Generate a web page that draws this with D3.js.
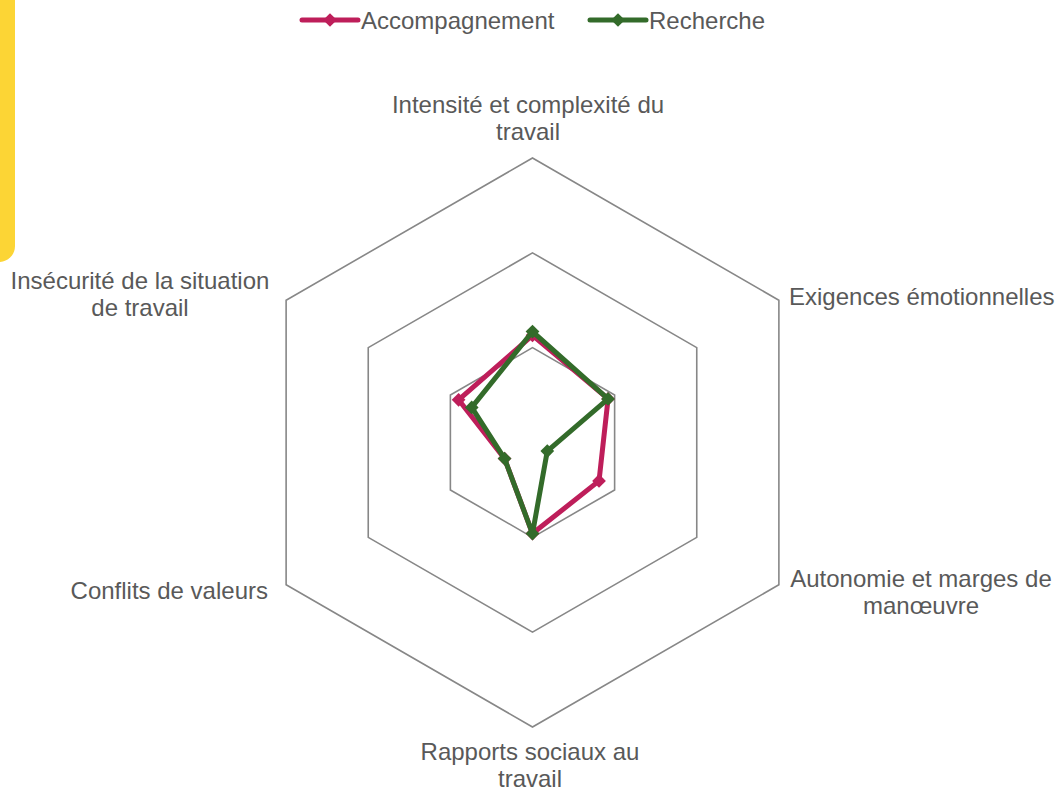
<!DOCTYPE html>
<html>
<head>
  <meta charset="UTF-8">
  <title>Radar</title>
  <style>
    body { margin: 0; background: #fff; overflow: hidden; }
    text { font-family: "Liberation Sans", Arial, sans-serif; fill: #595959; font-size: 24px; }
  </style>
</head>
<body>
<svg id="chart"></svg>
<script src="https://d3js.org/d3.v7.min.js"></script>
<script>
const categories = [
  "Intensité et complexité du travail",
  "Exigences émotionnelles",
  "Autonomie et marges de manœuvre",
  "Rapports sociaux au travail",
  "Conflits de valeurs",
  "Insécurité de la situation de travail"
];
const accompagnement = [1.13, 0.92, 0.81, 0.96, 0.34, 0.90];
const recherche = [1.17, 0.92, 0.18, 0.96, 0.34, 0.74];
const gridLevels = [1, 2, 3];

const series = [
  { name: "Accompagnement", values: accompagnement, color: "#BE1E5A" },
  { name: "Recherche", values: recherche, color: "#336B2A" }
];

const width = 1057, height = 791;
const cx = 532.5, cy = 442.5, R = 284.5;

const svg = d3.select("#chart").attr("width", width).attr("height", height);

// yellow tab on the left edge
svg.append("rect")
  .attr("x", -30).attr("y", -30)
  .attr("width", 45).attr("height", 292)
  .attr("rx", 16)
  .attr("fill", "#FCD535");

const r = d3.scaleLinear().domain([0, 3]).range([0, R]);
const angle = d3.scaleLinear().domain([0, categories.length]).range([0, 2 * Math.PI]);

const pt = (i, v) => [cx + r(v) * Math.sin(angle(i)), cy - r(v) * Math.cos(angle(i))];

const g = svg.append("g");

// grid hexagons
gridLevels.forEach(l => {
  g.append("path")
    .attr("d", d3.line()(categories.map((c, i) => pt(i, l))) + "Z")
    .attr("fill", "none")
    .attr("stroke", "#878787")
    .attr("stroke-width", 1.6);
});

// series
const diamond = d3.symbol().type(d3.symbolDiamond2).size(120);
series.forEach(s => {
  const pts = s.values.map((v, i) => pt(i, v));
  g.append("path")
    .attr("d", d3.line()(pts) + "Z")
    .attr("fill", "none")
    .attr("stroke", s.color)
    .attr("stroke-width", 5)
    .attr("stroke-linejoin", "round");
  g.selectAll(null).data(pts).enter().append("path")
    .attr("d", diamond)
    .attr("transform", d => `translate(${d[0]},${d[1]})`)
    .attr("fill", s.color);
});

// axis labels
const lh = 26.5;
const labels = [
  { lines: ["Intensité et complexité du", "travail"], x: 528, y: 113, anchor: "middle" },
  { lines: ["Exigences émotionnelles"], x: 789, y: 305, anchor: "start" },
  { lines: ["Autonomie et marges de", "manœuvre"], x: 921, y: 587, anchor: "middle" },
  { lines: ["Rapports sociaux au", "travail"], x: 530, y: 760, anchor: "middle" },
  { lines: ["Conflits de valeurs"], x: 268, y: 599, anchor: "end" },
  { lines: ["Insécurité de la situation", "de travail"], x: 140, y: 289, anchor: "middle" }
];
labels.forEach(l => {
  const t = svg.append("text").attr("text-anchor", l.anchor);
  l.lines.forEach((line, k) => {
    t.append("tspan").attr("x", l.x).attr("y", l.y + k * lh).text(line);
  });
});

// legend
const legendX = [302, 590];
series.forEach((s, k) => {
  const lg = svg.append("g").attr("transform", `translate(${legendX[k]},20)`);
  lg.append("line").attr("x1", 0).attr("x2", 56).attr("y1", 0).attr("y2", 0)
    .attr("stroke", s.color).attr("stroke-width", 5).attr("stroke-linecap", "round");
  lg.append("path").attr("d", diamond).attr("transform", "translate(28,0)").attr("fill", s.color);
  lg.append("text").attr("x", 59).attr("y", 8.5).text(s.name);
});
</script>
</body>
</html>
